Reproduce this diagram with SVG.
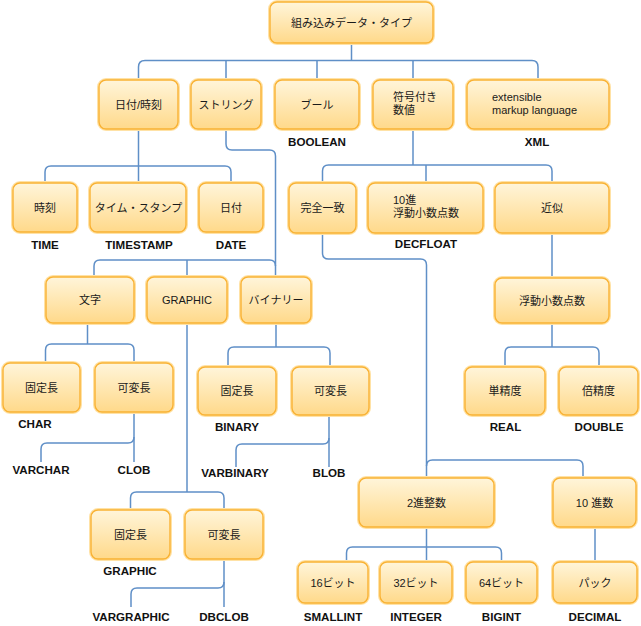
<svg xmlns="http://www.w3.org/2000/svg" width="641" height="626" viewBox="0 0 641 626">
<defs>
<linearGradient id="g" x1="0" y1="0" x2="0" y2="1">
<stop offset="0" stop-color="#fff5da"/>
<stop offset="1" stop-color="#ffd98a"/>
</linearGradient>
</defs>
<style>
.h{fill:none;stroke:#ffe2a6;stroke-width:4}
.b{fill:url(#g);stroke:#f9b234;stroke-width:1.4}
.t{font-family:"Liberation Sans","Noto Sans CJK JP",sans-serif;font-size:11px;fill:#1a1a1a;text-anchor:middle}
.l{font-family:"Liberation Sans","Noto Sans CJK JP",sans-serif;font-size:11px;fill:#1a1a1a;text-anchor:start}
.lb{font-family:"Liberation Sans",Arial,sans-serif;font-size:11.6px;font-weight:bold;fill:#111;text-anchor:middle}
#connectors path{fill:none;stroke:#5f8fc7;stroke-width:1.5}
</style>
<rect width="641" height="626" fill="#fff"/>
<g id="connectors">
<path d="M351.5,43 V60.5"/>
<path d="M138.5,80 V67 Q138.5,60.5 145,60.5 H532 Q538,60.5 538,67 V80"/>
<path d="M226,60.5 V80 M317,60.5 V80 M413,60.5 V80"/>
<path d="M138.5,129 V183"/>
<path d="M45,183 V172 Q45,166 51,166 H225 Q231,166 231,172 V183"/>
<path d="M226,129 V144 Q226,150 232,150 H269.5 Q275.5,150 275.5,156 V277"/>
<path d="M94,277 V266 Q94,260 100,260 H269.5 Q275.5,260 275.5,266"/>
<path d="M187,260 V277"/>
<path d="M87.5,323 V344"/>
<path d="M45.5,363 V350 Q45.5,344 51.5,344 H128 Q134,344 134,350 V363"/>
<path d="M134,412 V462"/>
<path d="M134,437 Q134,443 128,443 H47 Q41,443 41,449 V462"/>
<path d="M187,323 V492"/>
<path d="M130.5,510 V498 Q130.5,492 136.5,492 H218 Q224,492 224,498 V510"/>
<path d="M224,559 V607"/>
<path d="M224,582 Q224,588 218,588 H137 Q131,588 131,594 V607"/>
<path d="M276,323 V347"/>
<path d="M228,367 V353 Q228,347 234,347 H324 Q330,347 330,353 V367"/>
<path d="M329,415 V467"/>
<path d="M329,438 Q329,444 323,444 H242 Q236,444 236,450 V467"/>
<path d="M413,129 V165"/>
<path d="M322.5,183 V171 Q322.5,165 328.5,165 H546 Q552,165 552,171 V183"/>
<path d="M426,165 V183"/>
<path d="M322.5,233 V253 Q322.5,259 328.5,259 H420.5 Q426.5,259 426.5,265 V478"/>
<path d="M426.5,466 Q426.5,460 432.5,460 H577 Q583,460 583,466 V478"/>
<path d="M552,233 V278"/>
<path d="M552,323 V347"/>
<path d="M505,367 V353 Q505,347 511,347 H593 Q599,347 599,353 V367"/>
<path d="M426.5,527 V562"/>
<path d="M346.5,562 V553 Q346.5,547 352.5,547 H495.5 Q501.5,547 501.5,553 V562"/>
<path d="M595,527 V562"/>
</g>

<g id="root"><rect class="h" x="270" y="2" width="163" height="41" rx="7"/><rect class="b" x="270" y="2" width="163" height="41" rx="7"/><text class="t" x="351.5" y="26.5">組み込みデータ・タイプ</text></g>

<g id="datetime"><rect class="h" x="99" y="80" width="79" height="49" rx="7"/><rect class="b" x="99" y="80" width="79" height="49" rx="7"/><text class="t" x="138.5" y="108.5">日付/時刻</text></g>
<g id="string"><rect class="h" x="191" y="80" width="70" height="49" rx="7"/><rect class="b" x="191" y="80" width="70" height="49" rx="7"/><text class="t" x="226" y="108.5">ストリング</text></g>
<g id="bool"><rect class="h" x="275" y="80" width="84" height="49" rx="7"/><rect class="b" x="275" y="80" width="84" height="49" rx="7"/><text class="t" x="317" y="108.5">ブール</text><text class="lb" x="317" y="146">BOOLEAN</text></g>
<g id="signed"><rect class="h" x="373" y="80" width="80" height="49" rx="7"/><rect class="b" x="373" y="80" width="80" height="49" rx="7"/><text class="l" x="393" y="101">符号付き</text><text class="l" x="393" y="114">数値</text></g>
<g id="xml"><rect class="h" x="467" y="80" width="142" height="49" rx="7"/><rect class="b" x="467" y="80" width="142" height="49" rx="7"/><text class="l" x="492" y="101">extensible</text><text class="l" x="492" y="114">markup language</text><text class="lb" x="537" y="146">XML</text></g>

<g id="time"><rect class="h" x="13" y="183" width="64" height="49" rx="7"/><rect class="b" x="13" y="183" width="64" height="49" rx="7"/><text class="t" x="45" y="211.5">時刻</text><text class="lb" x="45" y="249">TIME</text></g>
<g id="timestamp"><rect class="h" x="90" y="183" width="96" height="49" rx="7"/><rect class="b" x="90" y="183" width="96" height="49" rx="7"/><text class="t" x="138.5" y="211.5">タイム・スタンプ</text><text class="lb" x="139" y="249">TIMESTAMP</text></g>
<g id="date"><rect class="h" x="199" y="183" width="64" height="49" rx="7"/><rect class="b" x="199" y="183" width="64" height="49" rx="7"/><text class="t" x="231" y="211.5">日付</text><text class="lb" x="231" y="249">DATE</text></g>

<g id="moji"><rect class="h" x="46" y="277" width="88" height="46" rx="7"/><rect class="b" x="46" y="277" width="88" height="46" rx="7"/><text class="t" x="90" y="304">文字</text></g>
<g id="graphic"><rect class="h" x="147" y="277" width="80" height="46" rx="7"/><rect class="b" x="147" y="277" width="80" height="46" rx="7"/><text class="t" x="187" y="304">GRAPHIC</text></g>
<g id="binary"><rect class="h" x="241" y="277" width="70" height="46" rx="7"/><rect class="b" x="241" y="277" width="70" height="46" rx="7"/><text class="t" x="276" y="304">バイナリー</text></g>

<g id="char"><rect class="h" x="3" y="363" width="77" height="49" rx="7"/><rect class="b" x="3" y="363" width="77" height="49" rx="7"/><text class="t" x="41.5" y="391.5">固定長</text><text class="lb" x="35" y="427.5">CHAR</text></g>
<g id="varchar"><rect class="h" x="95" y="363" width="78" height="49" rx="7"/><rect class="b" x="95" y="363" width="78" height="49" rx="7"/><text class="t" x="134" y="391.5">可変長</text><text class="lb" x="41" y="473.5">VARCHAR</text><text class="lb" x="134" y="473.5">CLOB</text></g>

<g id="bin-fixed"><rect class="h" x="198" y="367" width="78" height="48" rx="7"/><rect class="b" x="198" y="367" width="78" height="48" rx="7"/><text class="t" x="237" y="395">固定長</text><text class="lb" x="237" y="431">BINARY</text></g>
<g id="bin-var"><rect class="h" x="292" y="367" width="77" height="48" rx="7"/><rect class="b" x="292" y="367" width="77" height="48" rx="7"/><text class="t" x="330.5" y="395">可変長</text><text class="lb" x="235" y="477">VARBINARY</text><text class="lb" x="329" y="477">BLOB</text></g>

<g id="gr-fixed"><rect class="h" x="91" y="510" width="79" height="49" rx="7"/><rect class="b" x="91" y="510" width="79" height="49" rx="7"/><text class="t" x="130.5" y="538.5">固定長</text><text class="lb" x="130" y="574.5">GRAPHIC</text></g>
<g id="gr-var"><rect class="h" x="185" y="510" width="78" height="49" rx="7"/><rect class="b" x="185" y="510" width="78" height="49" rx="7"/><text class="t" x="224" y="538.5">可変長</text><text class="lb" x="131" y="620.5">VARGRAPHIC</text><text class="lb" x="224" y="620.5">DBCLOB</text></g>

<g id="exact"><rect class="h" x="289" y="183" width="67" height="50" rx="7"/><rect class="b" x="289" y="183" width="67" height="50" rx="7"/><text class="t" x="322.5" y="212">完全一致</text></g>
<g id="decfloat"><rect class="h" x="368" y="183" width="115" height="50" rx="7"/><rect class="b" x="368" y="183" width="115" height="50" rx="7"/><text class="l" x="393" y="204">10進</text><text class="l" x="393" y="217">浮動小数点数</text><text class="lb" x="426" y="247.5">DECFLOAT</text></g>
<g id="approx"><rect class="h" x="495" y="183" width="114" height="50" rx="7"/><rect class="b" x="495" y="183" width="114" height="50" rx="7"/><text class="t" x="552" y="212">近似</text></g>

<g id="float"><rect class="h" x="495" y="278" width="114" height="45" rx="7"/><rect class="b" x="495" y="278" width="114" height="45" rx="7"/><text class="t" x="552" y="304.5">浮動小数点数</text></g>
<g id="real"><rect class="h" x="465" y="367" width="80" height="48" rx="7"/><rect class="b" x="465" y="367" width="80" height="48" rx="7"/><text class="t" x="505" y="395">単精度</text><text class="lb" x="505.5" y="431">REAL</text></g>
<g id="double"><rect class="h" x="559" y="367" width="79" height="48" rx="7"/><rect class="b" x="559" y="367" width="79" height="48" rx="7"/><text class="t" x="598.5" y="395">倍精度</text><text class="lb" x="599" y="431">DOUBLE</text></g>

<g id="binint"><rect class="h" x="359" y="478" width="135" height="49" rx="7"/><rect class="b" x="359" y="478" width="135" height="49" rx="7"/><text class="t" x="426.5" y="506.5">2進整数</text></g>
<g id="decnum"><rect class="h" x="553" y="478" width="83" height="49" rx="7"/><rect class="b" x="553" y="478" width="83" height="49" rx="7"/><text class="t" x="594.5" y="506.5">10 進数</text></g>

<g id="smallint"><rect class="h" x="298" y="562" width="70" height="41" rx="7"/><rect class="b" x="298" y="562" width="70" height="41" rx="7"/><text class="t" x="333" y="586.5">16ビット</text><text class="lb" x="333" y="621">SMALLINT</text></g>
<g id="integer"><rect class="h" x="380" y="562" width="72" height="41" rx="7"/><rect class="b" x="380" y="562" width="72" height="41" rx="7"/><text class="t" x="416" y="586.5">32ビット</text><text class="lb" x="416" y="621">INTEGER</text></g>
<g id="bigint"><rect class="h" x="466" y="562" width="71" height="41" rx="7"/><rect class="b" x="466" y="562" width="71" height="41" rx="7"/><text class="t" x="501.5" y="586.5">64ビット</text><text class="lb" x="501.5" y="621">BIGINT</text></g>
<g id="pack"><rect class="h" x="553" y="562" width="84" height="41" rx="7"/><rect class="b" x="553" y="562" width="84" height="41" rx="7"/><text class="t" x="595" y="586.5">パック</text><text class="lb" x="595" y="621">DECIMAL</text></g>
</svg>
